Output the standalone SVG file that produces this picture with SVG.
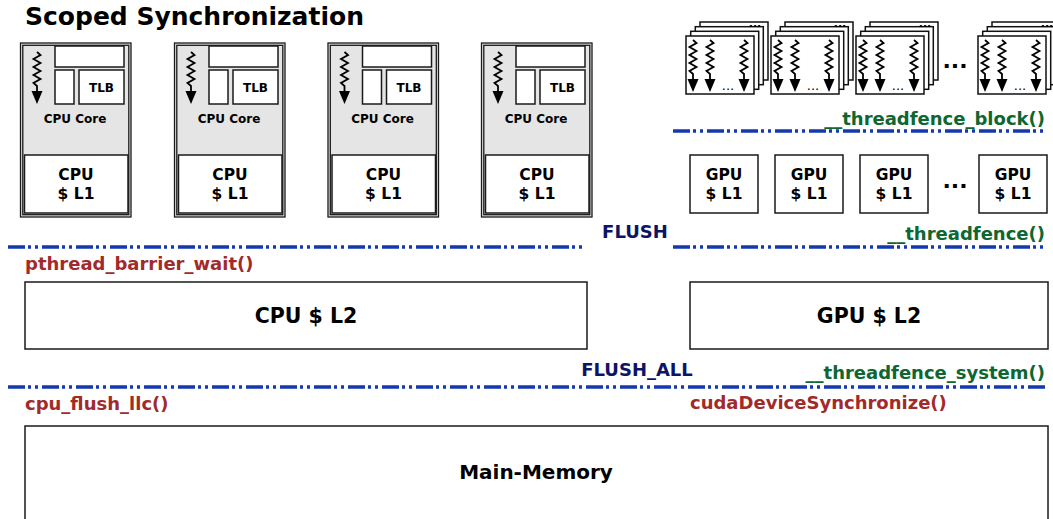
<svg xmlns="http://www.w3.org/2000/svg" xmlns:xlink="http://www.w3.org/1999/xlink" width="1053" height="519" viewBox="0 0 1053 519">
<style>
text{font-family:"DejaVu Sans","Liberation Sans",sans-serif;font-weight:bold}
.box{fill:#fff;stroke:#1a1a1a;stroke-width:1.5}
.core{fill:#e5e5e5;stroke:#1a1a1a;stroke-width:1.3}
.in{fill:none;stroke:#1a1a1a;stroke-width:1.3}
.page{fill:#fff;stroke:#111;stroke-width:1.5}
.sep{stroke:#1438b0;stroke-width:3.5;fill:none;stroke-dasharray:17 3 3 4 3 4}
.c{text-anchor:middle}
.red{fill:#a12a2a;font-size:18px}
.green{fill:#0e6630;font-size:18px;text-anchor:end}
.navy{fill:#0d1466;font-size:18px;text-anchor:middle}
</style>
<defs>
<g id="thread">
<path d="M0,0 l3.5,3 l-7,4 l7,4 l-7,4 l7,4 l-7,4 l7,4 l-7,4 l3.5,3 L0,41" fill="none" stroke="#000" stroke-width="1.8"/>
<polygon points="-5.5,39 5.5,39 0,52" fill="#000"/>
</g>
<g id="cpucore">
<rect class="core" x="0.5" y="43" width="110.5" height="174"/>
<rect class="in" x="2.8" y="45.3" width="106" height="169.4"/>
<rect class="box" x="35" y="46" width="69" height="21"/>
<rect class="box" x="35" y="70" width="19" height="34"/>
<rect class="box" x="59" y="70" width="45" height="34"/>
<text x="81.5" y="91.5" class="c" font-size="12">TLB</text>
<use xlink:href="#thread" x="17" y="52"/>
<text x="55" y="122.5" class="c" font-size="12">CPU Core</text>
<rect class="box" x="4.5" y="155" width="103.5" height="58"/>
<text x="56" y="180" class="c" font-size="15.5">CPU</text>
<text x="56" y="199" class="c" font-size="15.5">$ L1</text>
</g>
<g id="gpublock">
<rect class="page" x="14" y="-14" width="68" height="58"/>
<rect class="page" x="9.3" y="-9.3" width="68" height="58"/>
<rect class="page" x="4.7" y="-4.7" width="68" height="58"/>
<rect class="page" x="0" y="0" width="68" height="58"/>
<text x="69" y="-9" class="c" font-size="11">...</text>
<use xlink:href="#thread" x="7" y="4"/>
<use xlink:href="#thread" x="24" y="4"/>
<use xlink:href="#thread" x="58" y="4"/>
<text x="42" y="54" class="c" font-size="13" style="font-weight:normal">...</text>
</g>
<g id="gpul1">
<rect class="box" x="0" y="155" width="68" height="58"/>
<text x="34" y="180" class="c" font-size="15.5">GPU</text>
<text x="34" y="199" class="c" font-size="15.5">$ L1</text>
</g>
</defs>

<text x="25" y="25" font-size="25">Scoped Synchronization</text>

<g id="cpu-core-1"><use xlink:href="#cpucore" x="20"/></g>
<g id="cpu-core-2"><use xlink:href="#cpucore" x="174"/></g>
<g id="cpu-core-3"><use xlink:href="#cpucore" x="327.5"/></g>
<g id="cpu-core-4"><use xlink:href="#cpucore" x="481"/></g>

<g id="gpu-block-1"><use xlink:href="#gpublock" x="686" y="36"/></g>
<g id="gpu-block-2"><use xlink:href="#gpublock" x="771" y="36"/></g>
<g id="gpu-block-3"><use xlink:href="#gpublock" x="856" y="36"/></g>
<text x="955" y="68" class="c" font-size="22">...</text>
<g id="gpu-block-4"><use xlink:href="#gpublock" x="978" y="36"/></g>

<g id="gpu-l1-1"><use xlink:href="#gpul1" x="690"/></g>
<g id="gpu-l1-2"><use xlink:href="#gpul1" x="775"/></g>
<g id="gpu-l1-3"><use xlink:href="#gpul1" x="860"/></g>
<text x="955" y="188" class="c" font-size="22">...</text>
<g id="gpu-l1-4"><use xlink:href="#gpul1" x="979"/></g>

<g id="cpu-l2">
<rect class="box" x="25" y="282" width="562" height="67"/>
<text x="306" y="323" class="c" font-size="20.5">CPU $ L2</text>
</g>
<g id="gpu-l2">
<rect class="box" x="690" y="282" width="358" height="67"/>
<text x="869" y="323" class="c" font-size="20.5">GPU $ L2</text>
</g>
<g id="main-memory">
<rect class="box" x="25" y="426" width="1023" height="100"/>
<text x="536" y="479" class="c" font-size="20">Main-Memory</text>
</g>

<g id="connectors">
<line class="sep" x1="673" y1="131" x2="1045" y2="131"/>
<line class="sep" x1="8" y1="247" x2="585" y2="247"/>
<line class="sep" x1="673" y1="247" x2="1045" y2="247"/>
<line class="sep" x1="8" y1="387" x2="1046" y2="387"/>
</g>

<text x="1045" y="125" class="green">__threadfence_block()</text>
<text x="1045" y="240" class="green">__threadfence()</text>
<text x="635" y="238" class="navy">FLUSH</text>
<text x="25" y="270" class="red">pthread_barrier_wait()</text>
<text x="637" y="376" class="navy">FLUSH_ALL</text>
<text x="1045" y="379" class="green">__threadfence_system()</text>
<text x="25" y="410" class="red">cpu_flush_llc()</text>
<text x="690" y="409" class="red">cudaDeviceSynchronize()</text>
</svg>
